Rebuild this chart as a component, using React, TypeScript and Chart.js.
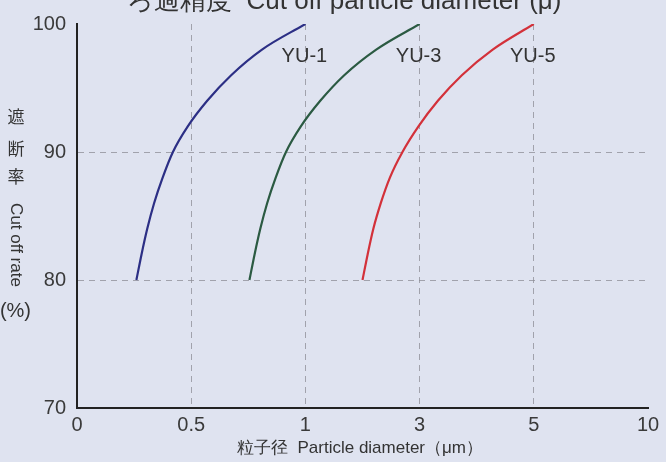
import { useEffect, useRef } from "react";
import { Chart, registerables } from "chart.js";

Chart.register(...registerables);

const xTickLabels = ["0", "0.5", "1", "3", "5", "10"];
const yMin = 70;
const yMax = 100;
const seriesNames = ["YU-1", "YU-3", "YU-5"];
const seriesColors = ["#2c2f85", "#2b5a42", "#d3313a"];

const cutRates = [80, 82, 84, 86, 88, 90, 92, 94, 96, 98, 100];
const yu1X = [0.52, 0.565, 0.615, 0.675, 0.75, 0.84, 0.97, 1.14, 1.35, 1.62, 2.0];
const yu3X = [1.51, 1.555, 1.605, 1.665, 1.74, 1.83, 1.96, 2.13, 2.34, 2.62, 3.0];
const yu5X = [2.5, 2.545, 2.595, 2.66, 2.74, 2.85, 2.99, 3.16, 3.37, 3.64, 4.0];

const titleText = "ろ過精度  Cut off particle diameter (μ)";
const xTitle = "粒子径  Particle diameter（μm）";
const yTitleChars = ["遮", "断", "率"];
const yTitleEn = "Cut off rate";
const yTitleUnit = "(%)";

const FONT = "'Liberation Sans', Arial, sans-serif";

const toPoints = (xs: number[], ys: number[]) => xs.map((x, i) => ({ x, y: ys[i] }));

export default function App() {
  const canvasRef = useRef<HTMLCanvasElement | null>(null);

  useEffect(() => {
    const canvas = canvasRef.current;
    if (!canvas) return;

    const textPlugin = {
      id: "customText",
      afterDraw(chart: any) {
        const ctx = chart.ctx as CanvasRenderingContext2D;
        ctx.save();
        ctx.fillStyle = "#333";
        // title (cut off at top)
        ctx.font = `26px ${FONT}`;
        ctx.textAlign = "left";
        ctx.textBaseline = "alphabetic";
        ctx.fillText(titleText, 127, 9);

        // series labels
        ctx.font = `20px ${FONT}`;
        ctx.textAlign = "center";
        chart.data.datasets.forEach((_: any, i: number) => {
          const meta = chart.getDatasetMeta(i);
          const last = meta.data[meta.data.length - 1];
          ctx.fillText(seriesNames[i], last.x - 1, last.y + 38);
        });

        // x title
        ctx.font = `17px ${FONT}`;
        ctx.textAlign = "center";
        ctx.fillText(xTitle, 360, 453);

        // y title
        ctx.font = `17px 'Noto Sans CJK JP', sans-serif`;
        ctx.textBaseline = "middle";
        const ys = [117, 149, 177];
        yTitleChars.forEach((c, i) => ctx.fillText(c, 16, ys[i]));
        ctx.save();
        ctx.translate(16, 245);
        ctx.rotate(Math.PI / 2);
        ctx.font = `17px ${FONT}`;
        ctx.fillText(yTitleEn, 0, 0);
        ctx.restore();
        ctx.font = `20px ${FONT}`;
        ctx.textAlign = "right";
        ctx.fillText(yTitleUnit, 31, 311);
        ctx.restore();
      },
    };

    const chart = new Chart(canvas, {
      type: "line",
      data: {
        datasets: [
          { label: seriesNames[0], data: toPoints(yu1X, cutRates), borderColor: seriesColors[0] },
          { label: seriesNames[1], data: toPoints(yu3X, cutRates), borderColor: seriesColors[1] },
          { label: seriesNames[2], data: toPoints(yu5X, cutRates), borderColor: seriesColors[2] },
        ].map((d) => ({
          ...d,
          borderWidth: 2.2,
          pointRadius: 0,
          fill: false,
          cubicInterpolationMode: "monotone" as const,
        })),
      },
      options: {
        responsive: false,
        animation: false,
        layout: { padding: { top: 24, right: 18, left: 0, bottom: 0 } },
        plugins: { legend: { display: false }, tooltip: { enabled: false }, title: { display: false } },
        scales: {
          x: {
            type: "linear",
            min: 0,
            max: xTickLabels.length - 1,
            afterFit: (s: any) => {
              s.height = 54;
            },
            ticks: {
              stepSize: 1,
              padding: 5,
              color: "#3a3a3a",
              font: { family: FONT, size: 20 },
              maxRotation: 0,
              callback: (v: any) => xTickLabels[Number(v)] ?? "",
            },
            grid: {
              drawTicks: false,
              lineWidth: 1,
              color: (c: any) =>
                c.tick && c.tick.value > 0 && c.tick.value < xTickLabels.length - 1
                  ? "rgba(140,140,150,0.75)"
                  : "rgba(0,0,0,0)",
            },
            border: { display: true, color: "#222", width: 2, dash: [6, 5] },
          },
          y: {
            min: yMin,
            max: yMax,
            afterFit: (s: any) => {
              s.width = 77;
            },
            ticks: {
              stepSize: 10,
              padding: 11,
              color: "#3a3a3a",
              font: { family: FONT, size: 20 },
            },
            grid: {
              drawTicks: false,
              lineWidth: 1,
              color: (c: any) =>
                c.tick && c.tick.value > yMin && c.tick.value < yMax
                  ? "rgba(140,140,150,0.75)"
                  : "rgba(0,0,0,0)",
            },
            border: { display: true, color: "#222", width: 2, dash: [6, 5] },
          },
        },
      },
      plugins: [textPlugin],
    });

    return () => chart.destroy();
  }, []);

  return (
    <div
      style={{
        position: "absolute",
        left: 0,
        top: 0,
        width: 666,
        height: 462,
        background: "#dfe3f0",
      }}
    >
      <canvas ref={canvasRef} width={666} height={462} style={{ width: 666, height: 462 }} />
    </div>
  );
}
